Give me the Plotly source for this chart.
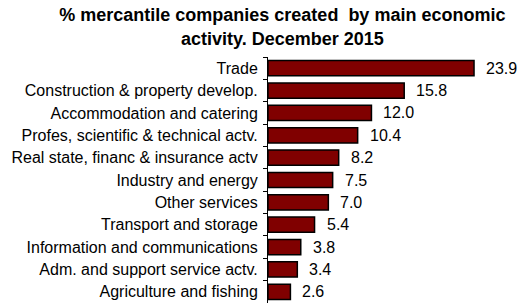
import plotly.graph_objects as go

categories = ["Trade", "Construction & property develop.", "Accommodation and catering",
              "Profes, scientific & technical actv.", "Real state, financ & insurance actv",
              "Industry and energy", "Other services", "Transport and storage",
              "Information and communications", "Adm. and support service actv.",
              "Agriculture and fishing"]
values = [23.9, 15.8, 12.0, 10.4, 8.2, 7.5, 7.0, 5.4, 3.8, 3.4, 2.6]
value_labels = ["%.1f" % v for v in values]

FONT = "Liberation Sans, Arial, sans-serif"

fig = go.Figure()
fig.add_trace(go.Bar(
    x=values, y=categories, orientation="h",
    marker=dict(color="#800000", line=dict(color="black", width=1.5)),
    width=0.68, cliponaxis=False, hoverinfo="skip",
))
for c, v, t in zip(categories, values, value_labels):
    fig.add_annotation(x=v, y=c, text=t, showarrow=False, xanchor="left",
                       xshift=10, font=dict(size=16, color="black", family=FONT))

fig.update_layout(
    width=519, height=303,
    margin=dict(l=268, r=1, t=57, b=0, autoexpand=False),
    paper_bgcolor="white", plot_bgcolor="white",
    showlegend=False,
    font=dict(family=FONT, size=16, color="black"),
    title=dict(text="<b>% mercantile companies created  by main economic<br>activity. December 2015</b>",
               x=0.544, xanchor="center", y=0.93, yanchor="top",
               font=dict(size=18, color="black")),
    xaxis=dict(range=[0, 29], visible=False, showgrid=False, zeroline=False, automargin=False),
    yaxis=dict(range=[10.5, -0.5], showline=True, linecolor="black", linewidth=1,
               ticks="outside", tickson="boundaries", ticklen=4, tickcolor="black",
               showgrid=False, ticklabelstandoff=6, automargin=False),
)
fig.write_html("out.html", config={"displayModeBar": False},
               post_script="document.body.style.margin='0px';document.body.style.overflow='hidden';")
